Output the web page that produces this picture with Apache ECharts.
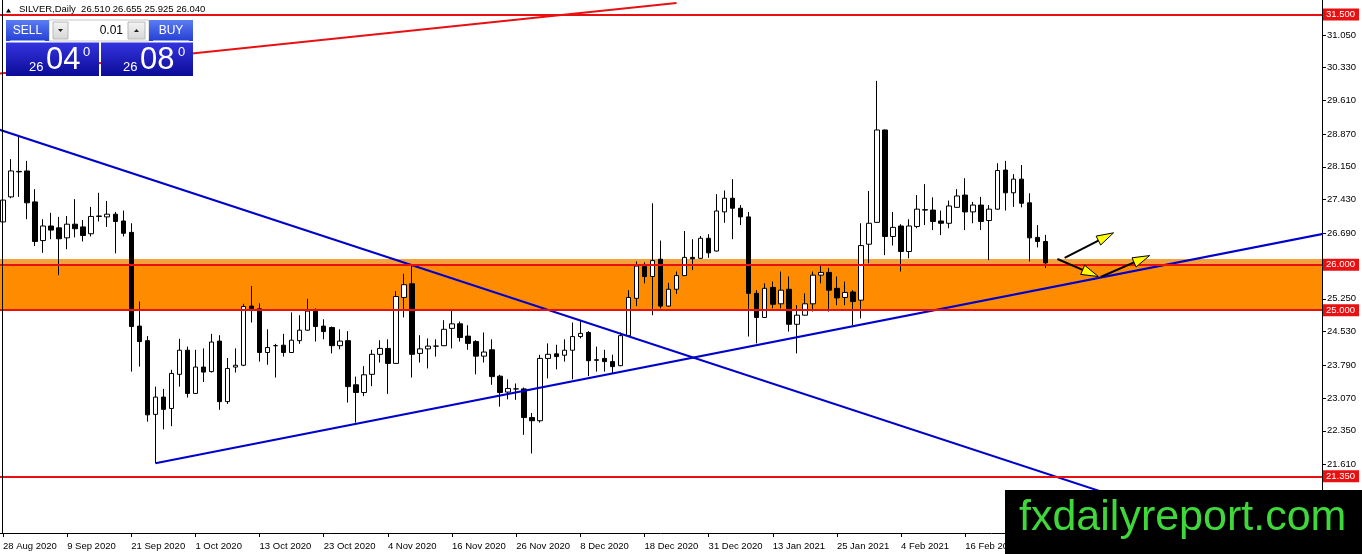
<!DOCTYPE html>
<html><head><meta charset="utf-8">
<script src="https://cdn.jsdelivr.net/npm/echarts@6/dist/echarts.min.js"></script>
<style>html,body{margin:0;padding:0;background:#fff;overflow:hidden}#c{width:1362px;height:554px}</style>
</head><body><div id="c"></div>
<script>
// ---- data (SILVER daily) ----
const open  = [26.94,27.49,28.05,28.06,27.38,26.53,26.85,26.81,26.59,26.89,26.83,26.68,27.06,27.05,27.11,26.96,26.71,24.65,24.33,22.71,
23.09,22.84,23.59,24.12,23.17,23.75,23.65,24.32,22.99,23.75,23.79,25.09,25.03,24.07,24.22,24.23,24.07,24.33,24.56,24.98,
24.65,24.62,24.22,24.33,23.36,23.19,23.59,24.03,24.16,23.83,25.28,25.58,24.05,24.15,24.21,24.22,24.60,24.70,24.43,24.31,
23.99,24.13,23.55,23.20,23.27,23.27,22.64,22.57,23.94,24.04,24.01,24.12,24.42,24.51,23.91,23.94,23.87,23.78,24.44,25.26,
25.96,25.74,26.12,25.09,25.46,25.76,26.16,26.14,26.58,26.30,27.16,27.46,27.24,27.05,25.37,24.84,25.50,25.14,25.46,24.69,
24.89,25.14,25.77,25.83,25.48,25.28,25.40,25.22,26.45,26.93,28.96,26.62,26.85,26.29,26.84,27.20,27.20,26.96,26.91,27.26,
27.53,27.16,27.31,26.97,27.22,28.08,27.58,27.88,27.36,26.60,26.51];
const high  = [27.66,28.32,28.85,28.28,27.66,27.00,27.14,27.05,27.07,27.44,26.98,27.27,27.58,27.40,27.16,27.19,26.91,25.19,24.43,23.32,
23.27,23.69,24.37,24.20,24.13,24.16,24.48,24.45,23.95,24.16,25.14,25.53,25.15,24.58,24.26,24.48,24.95,24.89,25.25,25.04,
24.80,24.64,24.58,24.54,23.54,23.77,24.13,24.34,24.36,25.42,25.80,25.98,24.45,24.38,24.36,24.78,25.00,24.75,24.67,24.34,
24.51,24.36,23.58,23.48,23.39,23.30,22.74,24.02,24.27,24.24,24.36,24.73,24.77,24.54,24.20,24.13,24.02,24.51,25.44,26.07,
26.05,27.35,26.53,25.60,25.85,26.74,26.56,26.63,26.67,27.55,27.63,27.88,27.31,27.16,25.44,25.59,25.63,25.85,25.74,25.11,
25.37,25.85,25.98,25.93,25.74,25.63,25.44,26.91,27.62,30.04,28.97,27.16,26.89,27.00,27.53,27.77,27.48,27.19,27.41,27.66,
27.90,27.38,27.49,27.31,28.23,28.28,27.99,28.19,27.57,26.87,26.655];
const low   = [26.76,27.46,27.49,27.00,26.41,26.26,26.56,25.77,26.34,26.60,26.51,26.62,26.95,26.83,26.25,26.62,23.65,23.76,22.55,21.64,
22.38,22.45,23.32,23.08,23.16,23.42,23.63,22.81,22.94,23.63,23.77,24.73,23.87,23.80,23.52,23.98,24.06,24.26,24.55,24.31,
24.36,24.05,24.14,22.97,22.53,23.11,23.33,23.85,23.16,23.82,24.84,23.52,23.85,23.72,23.98,24.21,24.16,24.31,24.13,23.59,
23.85,23.36,22.88,23.04,23.03,22.26,21.85,22.53,23.50,23.70,23.87,23.48,24.38,23.55,23.65,23.65,23.60,23.77,24.43,25.09,
25.59,24.89,25.04,25.08,25.36,25.75,25.88,26.13,26.15,26.29,26.92,26.56,26.87,24.42,24.27,24.83,25.04,25.04,24.53,24.05,
24.88,24.97,25.59,24.97,25.11,25.11,24.67,24.82,26.03,26.92,26.21,26.42,25.85,26.14,26.80,26.87,26.76,26.65,26.80,27.25,
26.76,26.91,26.76,26.10,27.21,27.19,27.27,27.26,26.07,26.38,25.925];
const close = [27.42,28.06,28.04,27.36,26.51,26.85,26.76,26.57,26.89,26.79,26.64,27.06,27.07,27.11,26.95,26.69,24.64,24.31,22.70,23.09,
22.82,23.61,24.12,23.17,23.75,23.64,24.30,22.99,23.72,23.79,25.08,25.03,24.07,24.18,24.22,24.07,24.34,24.56,24.98,24.64,
24.53,24.22,24.32,23.32,23.19,23.58,24.03,24.16,23.83,25.30,25.56,24.03,24.15,24.21,24.21,24.58,24.70,24.40,24.27,23.99,
24.08,23.54,23.19,23.28,23.27,22.64,22.57,23.94,24.03,23.98,24.12,24.42,24.49,23.89,23.90,23.87,23.76,24.44,25.28,25.97,
25.74,26.09,25.09,25.46,25.76,26.16,26.13,26.58,26.26,27.18,27.46,27.24,27.05,25.37,24.84,25.48,25.13,25.44,24.69,24.89,
25.14,25.77,25.83,25.44,25.27,25.39,25.19,26.42,26.91,28.96,26.62,26.82,26.29,26.85,27.22,27.21,26.95,26.91,27.29,27.51,
27.16,27.31,26.95,27.22,28.07,27.58,27.88,27.35,26.59,26.51,26.04];
const yTickLabels = [21.61,22.35,23.07,23.79,24.53,25.25,26.69,27.43,28.15,28.87,29.61,30.33,31.05];
const levels = [31.5, 26.0, 25.0, 21.35];
const zoneLow = 25.0, zoneMid = 26.0, zoneHigh = 26.125;
const descLine = [[-0.5, 28.97], [164.5, 19.42]];
const ascLine = [[19, 21.636], [165, 26.69]];
const redTrend = [[-0.5, 30.197], [84, 31.751]];
const arrows = [[131.5, 26.125, 136.6, 25.74], [132.4, 26.15, 138.5, 26.70], [136.9, 25.73, 143.0, 26.20]];
const titleText = 'SILVER,Daily  26.510 26.655 25.925 26.040';
const slotCount = 165;

// trading-day categories starting 28 Aug 2020
const months = ['Jan','Feb','Mar','Apr','May','Jun','Jul','Aug','Sep','Oct','Nov','Dec'];
const categories = [];
let d = new Date(Date.UTC(2020, 7, 28));
while (categories.length < slotCount) {
  const wd = d.getUTCDay(), m = d.getUTCMonth(), dd = d.getUTCDate();
  const hol = (m === 11 && dd === 25) || (m === 0 && dd === 1);
  if (wd !== 0 && wd !== 6 && !hol) categories.push(dd + ' ' + months[m] + ' ' + d.getUTCFullYear());
  d = new Date(d.getTime() + 86400000);
}
const candleData = open.map((o, i) => [o, close[i], low[i], high[i]]);

const FONT = "'Liberation Sans', Arial, sans-serif";
const chart = echarts.init(document.getElementById('c'), null, {renderer: 'canvas'});
const grad = (a, b) => new echarts.graphic.LinearGradient(0,0,0,1,[{offset:0,color:a},{offset:1,color:b}]);

const option = {
  animation: false,
  backgroundColor: '#ffffff',
  grid: {left: -1, right: 40, top: 0, bottom: 21, containLabel: false, outerBoundsMode: 'none'},
  xAxis: [{
    type: 'category', data: categories, boundaryGap: true,
    axisLine: {show: true, onZero: false, lineStyle: {color: '#000', width: 1}},
    axisTick: {show: true, alignWithLabel: true, interval: 7, length: 4, lineStyle: {color: '#000'}},
    axisLabel: {interval: 7, align: 'left', color: '#000', fontSize: 9.5, fontFamily: FONT, margin: 8},
    splitLine: {show: false}
  }, {
    type: 'value', min: -0.5, max: slotCount - 0.5, show: false
  }],
  yAxis: {
    type: 'value', position: 'right', min: 20.103, max: 31.817,
    axisLine: {show: true, onZero: false, lineStyle: {color: '#000', width: 1}},
    axisTick: {show: true, length: 4, customValues: yTickLabels, lineStyle: {color: '#000'}},
    axisLabel: {customValues: yTickLabels, formatter: v => Number(v).toFixed(3), color: '#000', fontSize: 9.5, fontFamily: FONT, margin: 5},
    splitLine: {show: false}
  },
  series: [{
    type: 'line', data: [], z: 1, silent: true,
    markArea: {silent: true, data: [
      [{yAxis: zoneLow, itemStyle: {color: '#ff8c00', opacity: 1}}, {yAxis: zoneMid}],
      [{yAxis: zoneMid, itemStyle: {color: '#f5a13c', opacity: 1}}, {yAxis: zoneHigh}]
    ]}
  }, {
    type: 'candlestick', data: candleData, barWidth: 5, z: 2, silent: true,
    itemStyle: {color: '#ffffff', color0: '#000000', borderColor: '#000000', borderColor0: '#000000', borderColorDoji: '#000000', borderWidth: 1}
  }, {
    type: 'line', data: [], z: 4, silent: true,
    markLine: {silent: true, symbol: ['none', 'none'],
      lineStyle: {color: '#e81010', width: 2, type: 'solid'},
      label: {show: true, position: 'end', distance: 1, formatter: p => Number(p.value).toFixed(3),
        color: '#fff', backgroundColor: '#e81010', padding: [1, 4, 1, 3], fontSize: 9.5, fontFamily: FONT},
      data: levels.map(v => ({yAxis: v}))}
  }, {
    type: 'line', xAxisIndex: 1, data: descLine, showSymbol: false, z: 3, silent: true, clip: true,
    lineStyle: {color: '#0000cd', width: 2}
  }, {
    type: 'line', xAxisIndex: 1, data: ascLine, showSymbol: false, z: 3, silent: true, clip: true,
    lineStyle: {color: '#0000cd', width: 2}
  }, {
    type: 'line', xAxisIndex: 1, data: redTrend, showSymbol: false, z: 3, silent: true, clip: true,
    lineStyle: {color: '#e81010', width: 2}
  }, {
    type: 'custom', xAxisIndex: 1, data: arrows, z: 5, silent: true,
    renderItem: (params, api) => {
      const p0 = api.coord([api.value(0), api.value(1)]);
      const p1 = api.coord([api.value(2), api.value(3)]);
      const dx = p1[0] - p0[0], dy = p1[1] - p0[1], len = Math.hypot(dx, dy);
      const ux = dx / len, uy = dy / len, hl = 17, hw = 5;
      const bx = p1[0] - ux * hl, by = p1[1] - uy * hl;
      return {type: 'group', children: [
        {type: 'line', shape: {x1: p0[0], y1: p0[1], x2: bx, y2: by}, style: {stroke: '#000', lineWidth: 2}},
        {type: 'polygon', shape: {points: [[p1[0], p1[1]], [bx - uy * hw, by + ux * hw], [bx + uy * hw, by - ux * hw]]},
          style: {fill: '#ffff00', stroke: '#000', lineWidth: 1}}
      ]};
    }
  }],
  graphic: [
    {type: 'line', z: 100, shape: {x1: 2.5, y1: 0, x2: 2.5, y2: 533}, style: {stroke: '#000', lineWidth: 1}},
    {type: 'polygon', z: 100, shape: {points: [[6, 12.5], [8.5, 8.5], [11, 12.5]]}, style: {fill: '#000'}},
    {type: 'text', z: 100, style: {x: 19, y: 9.5, text: titleText, font: '9.5px ' + FONT, fill: '#000', verticalAlign: 'middle'}},
    // trade panel
    {type: 'rect', z: 100, shape: {x: 49, y: 20, width: 100, height: 21}, style: {fill: '#ffffff', stroke: '#c8c8c8', lineWidth: 1}},
    {type: 'rect', z: 101, shape: {x: 6, y: 20, width: 43, height: 21}, style: {fill: grad('#5a7cf2', '#2440d4')}},
    {type: 'line', z: 102, shape: {x1: 10, y1: 40.5, x2: 45, y2: 40.5}, style: {stroke: '#8fa4f0', lineWidth: 1}},
    {type: 'text', z: 102, style: {x: 27.5, y: 30.5, text: 'SELL', font: '12px ' + FONT, fill: '#fff', align: 'center', verticalAlign: 'middle'}},
    {type: 'rect', z: 101, shape: {x: 149, y: 20, width: 44, height: 21}, style: {fill: grad('#5a7cf2', '#2440d4')}},
    {type: 'line', z: 102, shape: {x1: 153, y1: 40.5, x2: 189, y2: 40.5}, style: {stroke: '#8fa4f0', lineWidth: 1}},
    {type: 'text', z: 102, style: {x: 171, y: 30.5, text: 'BUY', font: '12px ' + FONT, fill: '#fff', align: 'center', verticalAlign: 'middle'}},
    {type: 'rect', z: 101, shape: {x: 53, y: 22, width: 15, height: 17}, style: {fill: grad('#f4f4f4', '#d6d6d6'), stroke: '#b8b8b8', lineWidth: 1}},
    {type: 'polygon', z: 102, shape: {points: [[58, 29], [63, 29], [60.5, 32]]}, style: {fill: '#222'}},
    {type: 'rect', z: 101, shape: {x: 128, y: 22, width: 17, height: 17}, style: {fill: grad('#f4f4f4', '#d6d6d6'), stroke: '#b8b8b8', lineWidth: 1}},
    {type: 'polygon', z: 102, shape: {points: [[134, 32], [139, 32], [136.5, 29]]}, style: {fill: '#222'}},
    {type: 'text', z: 102, style: {x: 123, y: 30.5, text: '0.01', font: '12px ' + FONT, fill: '#000', align: 'right', verticalAlign: 'middle'}},
    {type: 'rect', z: 101, shape: {x: 6, y: 42.5, width: 93, height: 33.5}, style: {fill: grad('#3434e0', '#0b0b96')}},
    {type: 'rect', z: 101, shape: {x: 101, y: 42.5, width: 92, height: 33.5}, style: {fill: grad('#3434e0', '#0b0b96')}},
    {type: 'text', z: 102, style: {x: 29, y: 67, text: '26', font: '13px ' + FONT, fill: '#fff', verticalAlign: 'middle'}},
    {type: 'text', z: 102, style: {x: 46, y: 60, text: '04', font: '31px ' + FONT, fill: '#fff', verticalAlign: 'middle'}},
    {type: 'text', z: 102, style: {x: 83, y: 52, text: '0', font: '13px ' + FONT, fill: '#fff', verticalAlign: 'middle'}},
    {type: 'text', z: 102, style: {x: 123, y: 67, text: '26', font: '13px ' + FONT, fill: '#fff', verticalAlign: 'middle'}},
    {type: 'text', z: 102, style: {x: 140, y: 60, text: '08', font: '31px ' + FONT, fill: '#fff', verticalAlign: 'middle'}},
    {type: 'text', z: 102, style: {x: 178, y: 52, text: '0', font: '13px ' + FONT, fill: '#fff', verticalAlign: 'middle'}},
    // watermark
    {type: 'rect', z: 110, shape: {x: 1005, y: 490, width: 357, height: 64}, style: {fill: '#000'}},
    {type: 'text', z: 111, style: {x: 1019, y: 518, text: 'fxdailyreport.com', font: '43px ' + FONT, fill: '#3fd83a', verticalAlign: 'middle'}}
  ]
};
chart.setOption(option);
</script>
</body></html>
